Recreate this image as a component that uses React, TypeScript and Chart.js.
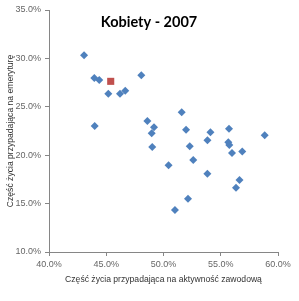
import React, { useEffect, useRef } from "react";
import { Chart, registerables } from "chart.js";

Chart.register(...registerables);

const chartTitle = "Kobiety - 2007";
const xAxisTitle = "Część życia przypadająca na aktywność zawodową";
const yAxisTitle = "Część życia przypadająca na emeryturę";

// Other countries (blue diamonds), values in %
const countriesX = [43.06, 43.96, 44.39, 48.06, 45.18, 46.2, 46.66, 43.99, 48.59, 49.17, 48.97, 49.02, 51.59, 51.97, 52.29, 52.6, 50.44, 54.1, 53.84, 55.72, 55.66, 55.75, 55.98, 56.88, 58.84, 53.83, 56.64, 56.33, 52.14, 51.0];
const countriesY = [30.32, 27.98, 27.77, 28.25, 26.35, 26.35, 26.66, 23.02, 23.53, 22.88, 22.26, 20.85, 24.43, 22.63, 20.92, 19.5, 18.96, 22.37, 21.54, 22.74, 21.33, 21.05, 20.23, 20.38, 22.06, 18.09, 17.44, 16.63, 15.51, 14.34];

// Highlighted country (red square)
const highlightX = [45.39];
const highlightY = [27.63];

const xMin = 40, xMax = 60, xStep = 5;
const yMin = 10, yMax = 35, yStep = 5;

const fmt = (v: number | string) => Number(v).toFixed(1) + "%";

export default function App() {
  const ref = useRef<HTMLCanvasElement>(null);
  useEffect(() => {
    if (!ref.current) return;
    const titlePlugin = {
      id: "overlayTitle",
      afterDraw(chart: any) {
        const ctx = chart.ctx;
        ctx.save();
        ctx.font = "bold 14.5px Lato, 'Liberation Sans', Arial, sans-serif";
        ctx.fillStyle = "#000";
        ctx.textAlign = "center";
        ctx.textBaseline = "alphabetic";
        ctx.fillText(chartTitle, 149, 27);
        ctx.restore();
      },
    };
    const tickFont = { family: "'Liberation Sans', Arial, sans-serif", size: 9 };
    const titleFont = { family: "'Liberation Sans', Arial, sans-serif", size: 8.6 };
    const chart = new Chart(ref.current, {
      type: "scatter",
      data: {
        datasets: [
          {
            label: "Kraje",
            data: countriesX.map((x, i) => ({ x, y: countriesY[i] })),
            pointStyle: "rectRot",
            pointRadius: 4,
            backgroundColor: "#4F81BD",
            borderColor: "#4F81BD",
            borderWidth: 0,
            order: 2,
          },
          {
            label: "Polska",
            data: highlightX.map((x, i) => ({ x, y: highlightY[i] })),
            pointStyle: "rect",
            pointRadius: 5,
            backgroundColor: "#C0504D",
            borderColor: "#C0504D",
            borderWidth: 0,
            order: 1,
          },
        ],
      },
      options: {
        responsive: false,
        animation: false,
        layout: { padding: { left: 0, right: 21, top: 10, bottom: 0 } },
        plugins: { legend: { display: false }, tooltip: { enabled: false }, title: { display: false } },
        scales: {
          x: {
            type: "linear",
            min: xMin,
            max: xMax,
            afterFit: (s: any) => { s.height = 49; },
            ticks: { stepSize: xStep, callback: fmt, color: "#666", font: tickFont, padding: 3, maxRotation: 0 },
            grid: { drawOnChartArea: false, drawTicks: true, tickLength: 4, color: "#868686" },
            border: { display: true, color: "#868686" },
            title: { display: true, text: xAxisTitle, color: "#333", font: titleFont, padding: { top: 0, bottom: 16 } },
          },
          y: {
            type: "linear",
            min: yMin,
            max: yMax,
            afterFit: (s: any) => { s.width = 49; },
            ticks: { stepSize: yStep, callback: fmt, color: "#666", font: tickFont, padding: 4 },
            grid: { drawOnChartArea: false, drawTicks: true, tickLength: 4, color: "#868686" },
            border: { display: true, color: "#868686" },
            title: { display: true, text: yAxisTitle, color: "#333", font: titleFont, padding: { top: 5, bottom: 0 } },
          },
        },
      },
      plugins: [titlePlugin],
    } as any);
    return () => chart.destroy();
  }, []);
  return (
    <div style={{ position: "fixed", left: 0, top: 0, width: 299, height: 301, background: "#fff" }}>
      <canvas ref={ref} width={299} height={301} style={{ display: "block" }} />
    </div>
  );
}
